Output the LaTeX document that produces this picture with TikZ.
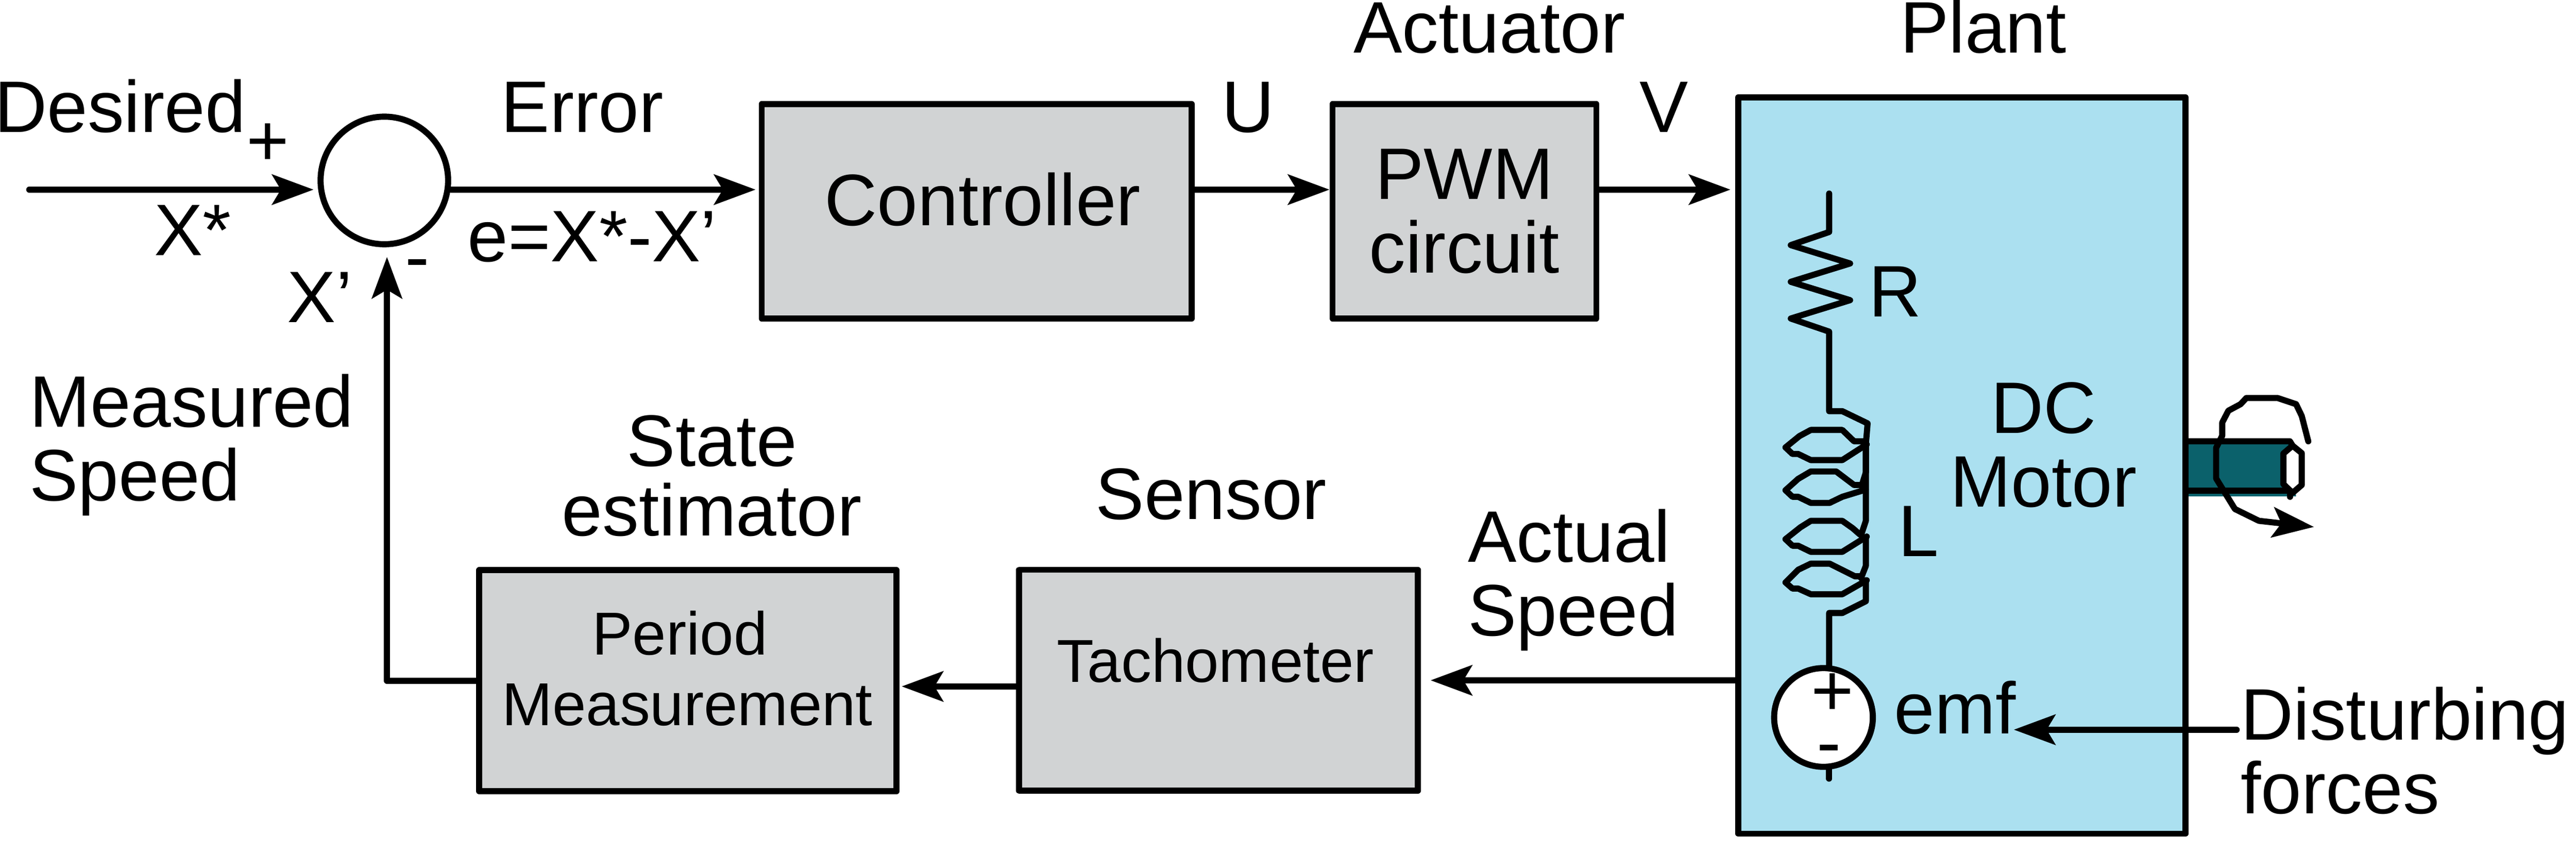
\documentclass[tikz,border=0pt]{standalone}
\usepackage{fontspec}
\usepackage{tikz}
\usetikzlibrary{arrows.meta}
\setmainfont{Liberation Sans}
\definecolor{boxgray}{HTML}{D1D3D4}
\definecolor{plantblue}{HTML}{ABE0F0}
\definecolor{shaftteal}{HTML}{0B616B}
\newcommand{\boxtext}[3]{\raisebox{#2}[0pt][0pt]{\hspace*{#1}\begin{tabular}{@{}c@{}}#3\end{tabular}}}
\tikzset{
  wire/.style={line width=0.14cm, line cap=round, line join=round},
  flow/.style={wire, -{Stealth[length=0.95cm,width=0.69cm,inset=0.2cm]}},
  blockbox/.style={draw, fill=boxgray, line width=0.14cm, line join=round, inner sep=0pt, font=\fontsize{39.5}{46}\selectfont},
  bigbox/.style={blockbox, font=\fontsize{47.5}{48}\selectfont},
  bigtxt/.style={inner sep=0pt, font=\fontsize{47.5}{48}\selectfont},
  ring/.style={draw, circle, fill=white, line width=0.14cm, inner sep=0pt},
}
\begin{document}
\begin{tikzpicture}
\useasboundingbox (0,-19.52) rectangle (58.98,0);
% blocks
\node[ring, minimum size=2.92cm] (sum) at (8.80,-4.13) {};
\node[bigbox, minimum width=9.84cm, minimum height=4.91cm] (controller) at (22.36,-4.835) {\boxtext{0.28cm}{-0.19cm}{Controller}};
\node[bigbox, minimum width=6.04cm, minimum height=4.91cm, align=center] (pwm) at (33.53,-4.835) {PWM\\circuit};
\node[blockbox, minimum width=9.55cm, minimum height=5.06cm] (period) at (15.75,-15.58) {\boxtext{-0.03cm}{-0.11cm}{Period\hspace*{0.34cm}\\Measurement}};
\node[blockbox, minimum width=9.13cm, minimum height=5.06cm] (tacho) at (27.90,-15.57) {\boxtext{-0.14cm}{0.06cm}{Tachometer}};
\node[blockbox, fill=plantblue, minimum width=10.24cm, minimum height=16.85cm] (plant) at (44.92,-10.655) {};
% labels
\node[bigtxt, anchor=base] (desired) at (2.75,-3.03) {Desired};
\node[bigtxt, anchor=base] (plus) at (6.13,-3.79) {+};
\node[bigtxt, anchor=base] (xstar) at (4.41,-5.85) {X*};
\node[bigtxt, anchor=base] (error) at (13.33,-3.03) {Error};
\node[bigtxt, anchor=base] (errdef) at (13.56,-5.99) {e=X*-X’};
\node[bigtxt, anchor=base] (minus) at (9.56,-6.45) {-};
\node[bigtxt, anchor=base] (xprime) at (7.32,-7.38) {X’};
\node[bigtxt, anchor=base] (ulabel) at (28.58,-3.03) {U};
\node[bigtxt, anchor=base] (vlabel) at (38.10,-3.03) {V};
\node[bigtxt, anchor=base] (actuator) at (34.10,-1.21) {Actuator};
\node[bigtxt, anchor=base] (plantlabel) at (45.41,-1.21) {Plant};
\node[bigtxt, anchor=base west, align=left] (measured) at (0.67,-11.46) {Measured\\Speed};
\node[bigtxt, anchor=base, align=center] (state) at (16.30,-12.26) {State\\[-0.1cm]estimator};
\node[bigtxt, anchor=base] (sensor) at (27.73,-11.88) {Sensor};
\node[bigtxt, anchor=base west, align=left] (actual) at (33.60,-14.55) {Actual\\Speed};
\node[bigtxt, anchor=base west, align=left] (disturb) at (51.30,-18.62) {Disturbing\\forces};
\node[bigtxt, anchor=base, align=center] (motor) at (46.79,-11.60) {DC\\Motor};
\node[bigtxt, anchor=base] (rlabel) at (43.39,-7.25) {R};
\node[bigtxt, anchor=base] (llabel) at (43.93,-12.73) {L};
\node[bigtxt, anchor=base] (emflabel) at (44.76,-16.79) {emf};
% connectors
\coordinate (refin) at (0.67,-4.34);
\coordinate (speedout) at (39.73,-15.57);
\coordinate (tachout) at (23.27,-15.71);
\coordinate (distin) at (51.21,-16.70);
\draw[flow, shorten >=0.09cm] (refin) -- (refin -| sum.west);
\draw[flow, shorten >=0.07cm] (refin -| sum.east) -- (refin -| controller.west);
\draw[flow] (refin -| controller.east) -- (refin -| pwm.west);
\draw[flow, shorten >=0.11cm] (refin -| pwm.east) -- (refin -| plant.west);
\draw[flow, shorten >=0.22cm] (speedout) -- (speedout -| tacho.east);
\draw[flow, shorten >=0.05cm] (tachout) -- (tachout -| period.east);
\draw[flow, shorten >=0.22cm] (period.west) -| ([xshift=0.06cm]sum.south);
\draw[flow, shorten >=-0.05cm] (distin) -- (distin -| emflabel.east);
% armature: R, L and emf
\draw[wire] (41.88,-4.43) -- (41.88,-5.31) -- (41.00,-5.61) -- (42.36,-6.03) -- (41.00,-6.45) -- (42.36,-6.87) -- (41.00,-7.29) -- (41.88,-7.59) -- (41.88,-9.41) -- (42.18,-9.41) -- (42.76,-9.69) -- (42.72,-10.17) -- (42.72,-11.20);
\draw[wire] (42.66,-10.10) -- (42.45,-10.10) -- (42.18,-9.84) -- (41.46,-9.84) -- (41.20,-9.98) -- (40.88,-10.24) -- (41.04,-10.39) -- (41.17,-10.39) -- (41.46,-10.53) -- (42.18,-10.53) -- (42.74,-10.17);
\draw[wire] (42.72,-10.17) -- (42.72,-10.81) -- (42.62,-11.13);
\draw[wire] (42.62,-11.10) -- (42.45,-11.10) -- (42.04,-10.79) -- (41.46,-10.79) -- (41.17,-10.96) -- (40.88,-11.22) -- (41.04,-11.37) -- (41.17,-11.37) -- (41.46,-11.51) -- (41.89,-11.51) -- (42.18,-11.37) -- (42.67,-11.22);
\draw[wire] (42.72,-11.22) -- (42.72,-11.92) -- (42.61,-12.25);
\draw[wire] (42.58,-12.23) -- (42.42,-12.09) -- (42.18,-11.92) -- (41.46,-11.92) -- (41.22,-12.07) -- (40.88,-12.34) -- (41.04,-12.49) -- (41.17,-12.49) -- (41.46,-12.63) -- (42.18,-12.63) -- (42.74,-12.28);
\draw[wire] (42.72,-12.33) -- (42.72,-12.95) -- (42.61,-13.23);
\draw[wire] (42.58,-13.19) -- (42.47,-13.19) -- (41.89,-12.90) -- (41.46,-12.90) -- (41.17,-13.04) -- (40.88,-13.33) -- (41.04,-13.47) -- (41.17,-13.47) -- (41.46,-13.60) -- (42.18,-13.60) -- (42.74,-13.28);
\draw[wire] (42.72,-13.28) -- (42.72,-13.76) -- (42.18,-14.03) -- (41.88,-14.03) -- (41.88,-15.40);
\draw[wire] (41.88,-17.50) -- (41.88,-17.82);
\node[ring, minimum size=2.26cm] (emfsrc) at (41.75,-16.42) {};
\node[bigtxt, anchor=base] (emfplus) at (41.95,-16.38) {+};
\node[bigtxt, anchor=base] (emfminus) at (41.88,-17.56) {-};
% shaft and rotation
\fill[shaftteal] (50.11,-10.10) -- (52.43,-10.10) -- (52.57,-11.36) -- (50.11,-11.36) -- cycle;
\draw[wire, line cap=butt] (50.11,-10.10) -- (52.43,-10.10) -- (52.49,-10.20);
\draw[wire] (50.11,-11.23) -- (52.43,-11.23) -- (52.43,-11.37);
\draw[wire, fill=white] (52.49,-10.20) -- (52.70,-10.37) -- (52.70,-11.10) -- (52.49,-11.28) -- (52.28,-11.08) -- (52.28,-10.38) -- cycle;
\draw[flow] (52.85,-10.10) -- (52.70,-9.52) -- (52.57,-9.25) -- (52.15,-9.11) -- (51.43,-9.11) -- (51.30,-9.25) -- (51.02,-9.40) -- (50.88,-9.67) -- (50.88,-9.97) -- (50.74,-10.25) -- (50.74,-10.95) -- (51.17,-11.65) -- (51.72,-11.92) -- (52.98,-12.06);
\end{tikzpicture}
\end{document}
